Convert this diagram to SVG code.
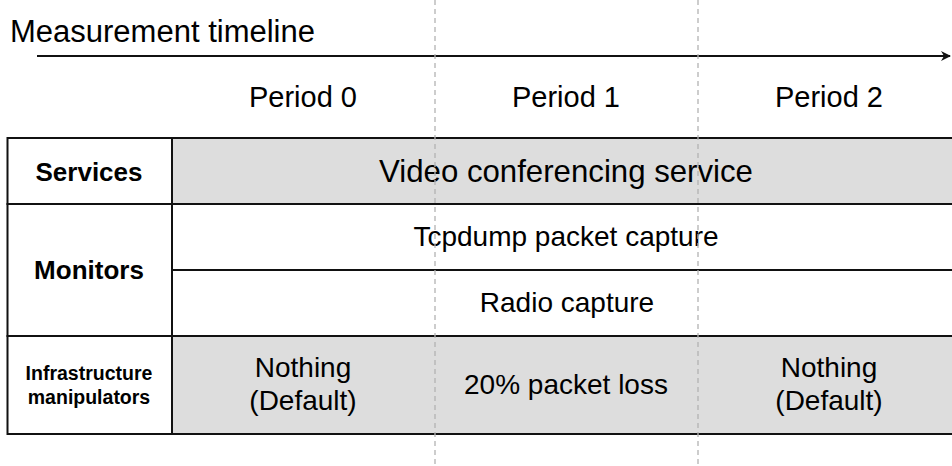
<svg xmlns="http://www.w3.org/2000/svg" width="952" height="466" viewBox="0 0 952 466">
  <style>
    text { font-family: "Liberation Sans", Arial, sans-serif; fill: #000; text-anchor: middle; }
    .head { font-weight: bold; font-size: 26px; }
    .small { font-weight: bold; font-size: 19.5px; }
    .cell { font-size: 28px; }
    .big { font-size: 31.2px; }
    .period { font-size: 29px; }
    .box { stroke: #111; stroke-width: 2; }
    .grey { fill: #dddddd; }
    .white { fill: #ffffff; }
    .divider { stroke: #b3b3b3; stroke-width: 1.3; stroke-dasharray: 5 4; fill: none; }
  </style>
  <defs>
    <marker id="arrowhead" viewBox="0 0 12 12" refX="10" refY="6" markerWidth="12" markerHeight="12" markerUnits="userSpaceOnUse" orient="auto">
      <path d="M1,1 L11,6 L1,11 L4,6 Z" fill="#111"/>
    </marker>
  </defs>

  <rect x="0" y="0" width="952" height="466" fill="#ffffff"/>

  <!-- timeline header -->
  <g id="timeline-title">
    <text x="10" y="41.5" style="text-anchor:start; font-size:31px">Measurement timeline</text>
  </g>
  <g id="period-0"><text class="period" x="303" y="106.5">Period 0</text></g>
  <g id="period-1"><text class="period" x="566" y="106.5">Period 1</text></g>
  <g id="period-2"><text class="period" x="829" y="106.5">Period 2</text></g>

  <!-- row: services -->
  <g id="services-label">
    <rect class="box white" x="7.5" y="138" width="164.5" height="66"/>
    <text class="head" x="89" y="181">Services</text>
  </g>
  <g id="video-service">
    <rect class="box grey" x="172" y="138" width="790" height="66"/>
    <text class="big" x="566" y="181.5">Video conferencing service</text>
  </g>

  <!-- row: monitors -->
  <g id="monitors-label">
    <rect class="box white" x="7.5" y="204" width="164.5" height="132"/>
    <text class="head" x="89" y="279">Monitors</text>
  </g>
  <g id="tcpdump-capture">
    <rect class="box white" x="172" y="204" width="790" height="66"/>
    <text class="cell" x="566" y="246">Tcpdump packet capture</text>
  </g>
  <g id="radio-capture">
    <rect class="box white" x="172" y="270" width="790" height="66"/>
    <text class="cell" x="567" y="312">Radio capture</text>
  </g>

  <!-- row: infrastructure manipulators (one shaded band, split by the period guides) -->
  <g id="infra-label">
    <rect class="box white" x="7.5" y="336" width="164.5" height="98"/>
    <text class="small" x="89" y="380">Infrastructure</text>
    <text class="small" x="89" y="404">manipulators</text>
  </g>
  <rect class="box grey" x="172" y="336" width="790" height="98"/>
  <g id="infra-period-0">
    <text class="cell" x="303" y="377">Nothing</text>
    <text class="cell" x="303" y="410">(Default)</text>
  </g>
  <g id="infra-period-1">
    <text class="cell" x="566" y="394">20% packet loss</text>
  </g>
  <g id="infra-period-2">
    <text class="cell" x="829" y="377">Nothing</text>
    <text class="cell" x="829" y="410">(Default)</text>
  </g>

  <!-- connectors: time axis and period boundaries -->
  <g id="connectors">
    <line x1="37" y1="56" x2="950" y2="56" stroke="#111" stroke-width="2" marker-end="url(#arrowhead)"/>
    <line class="divider" x1="435" y1="0" x2="435" y2="466"/>
    <line class="divider" x1="698" y1="0" x2="698" y2="466"/>
  </g>
</svg>
